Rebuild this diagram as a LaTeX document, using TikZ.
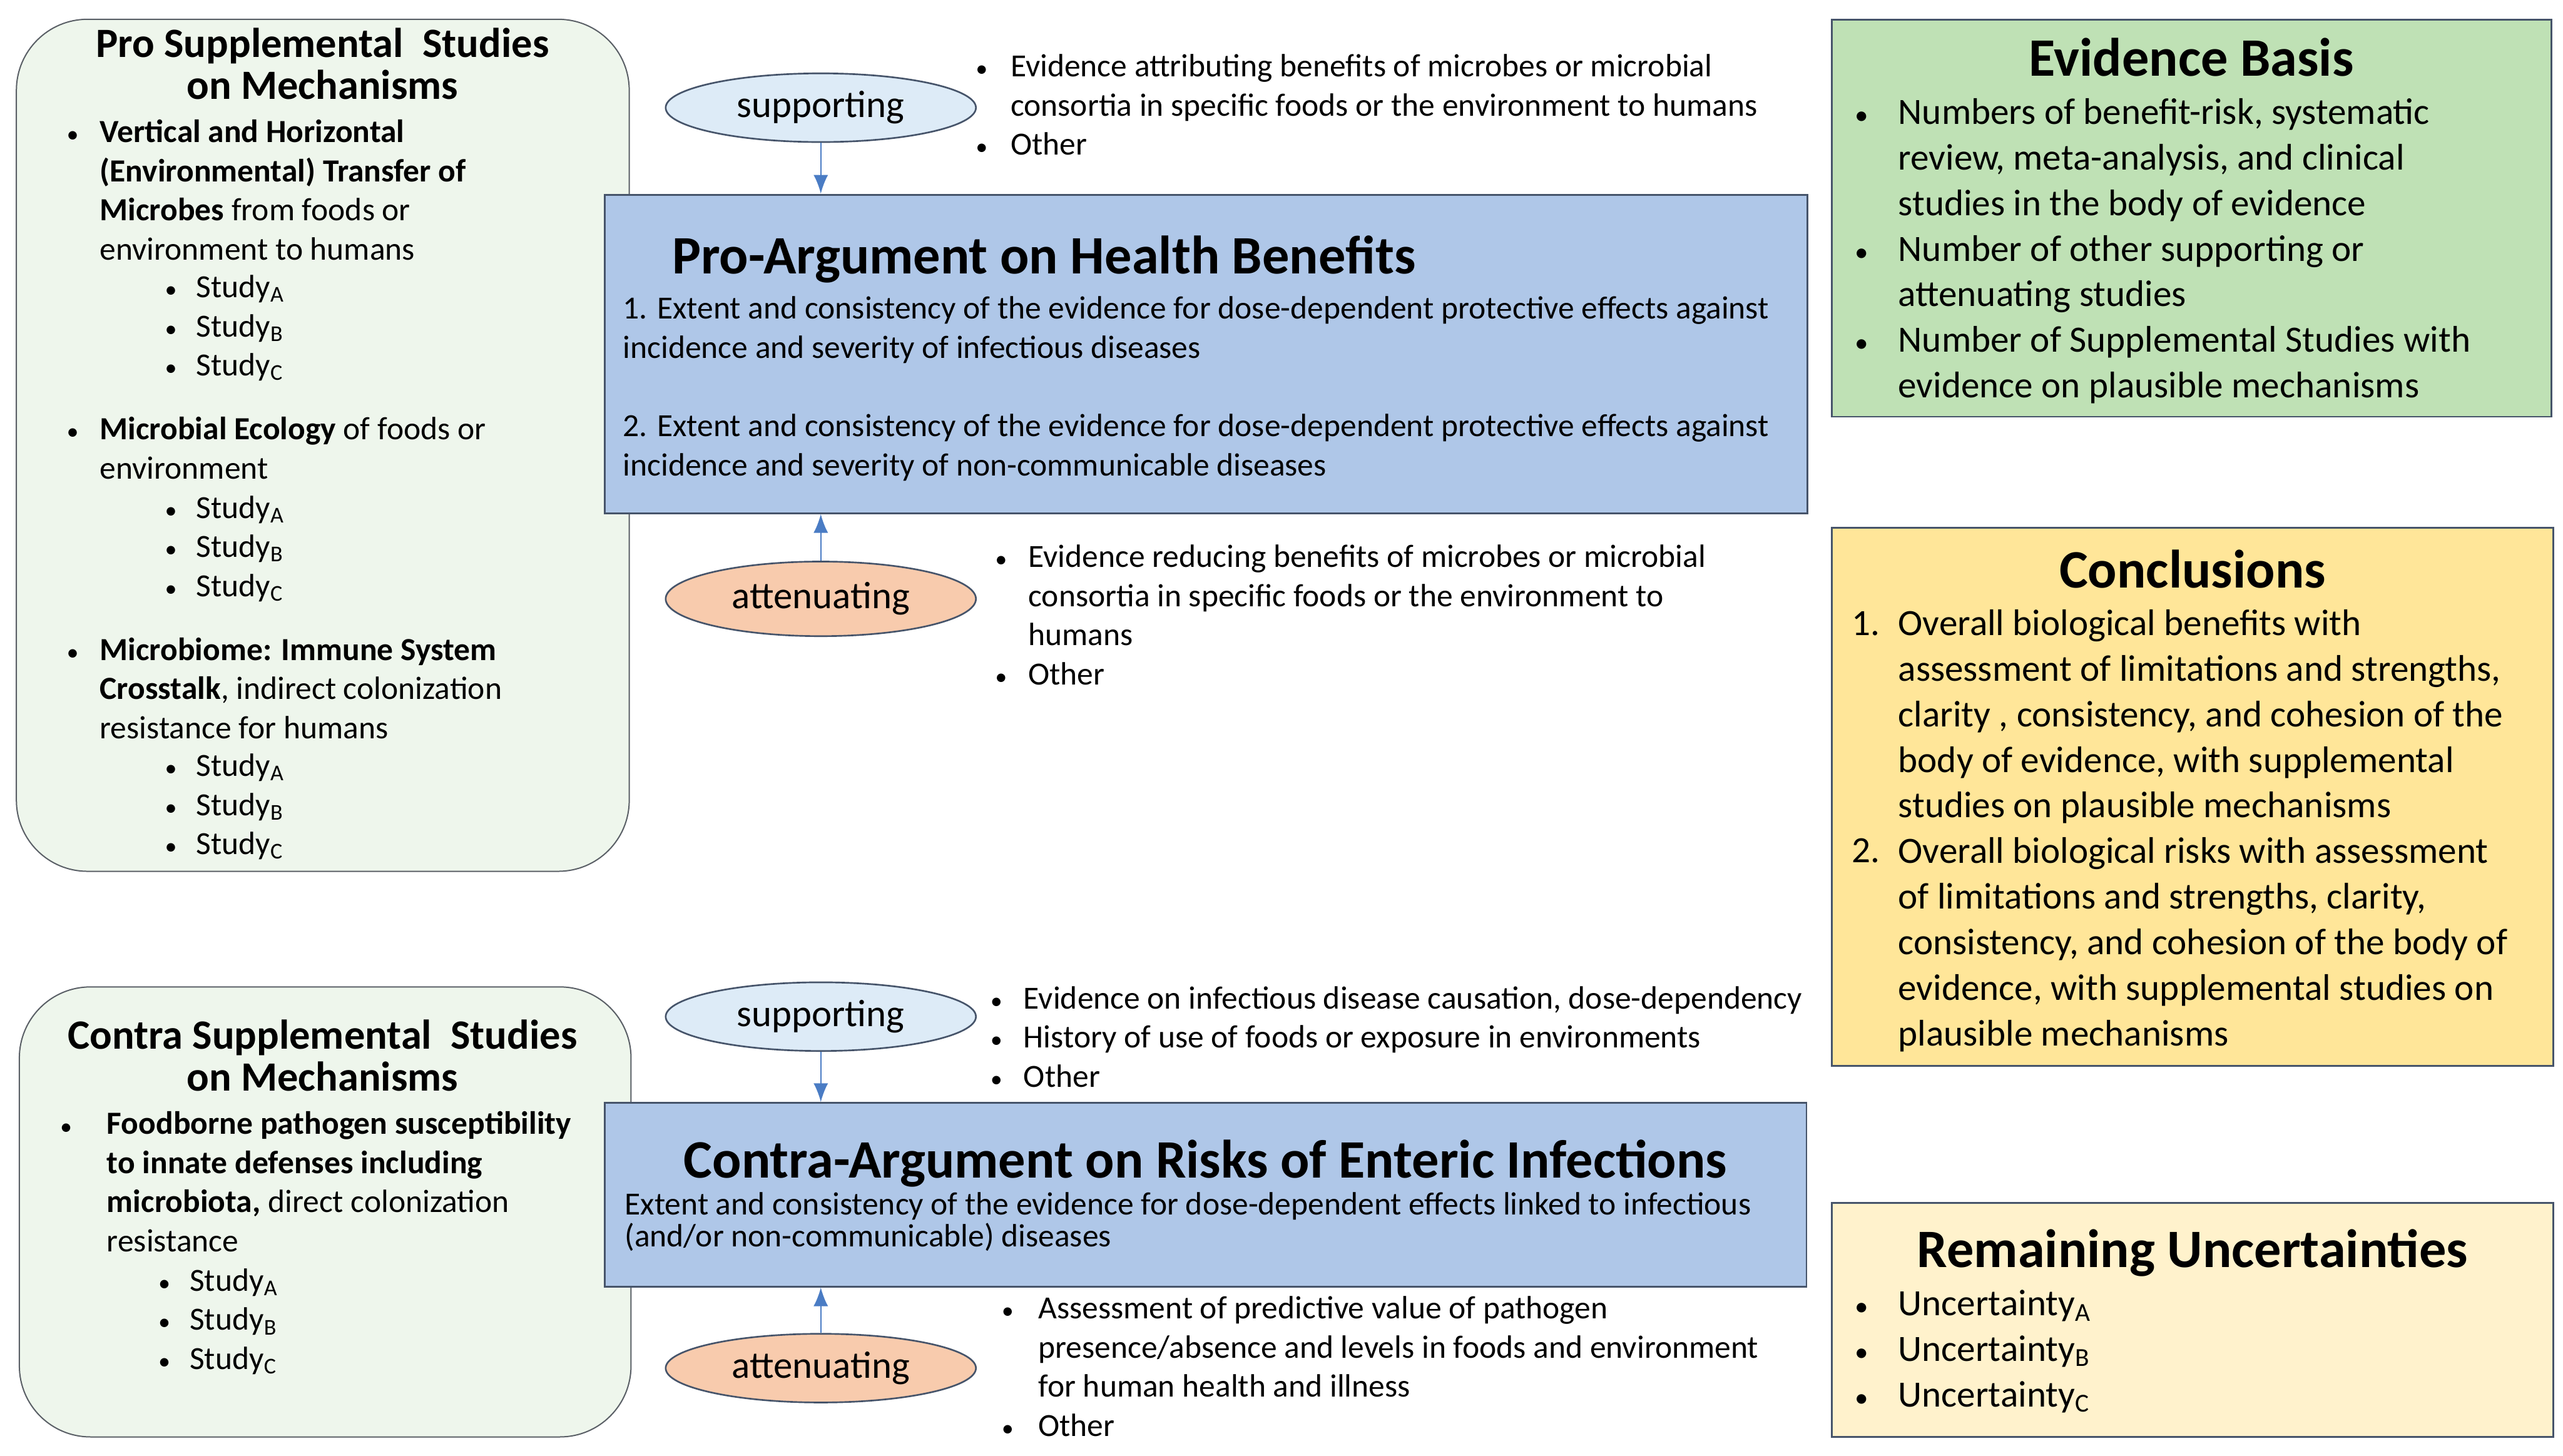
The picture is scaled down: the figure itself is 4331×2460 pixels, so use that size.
\documentclass[tikz,border=0pt]{standalone}
\usepackage{fontspec}
\setmainfont{Carlito}
\usetikzlibrary{shapes.geometric,arrows.meta}
\definecolor{leftgreen}{HTML}{EEF6EC}
\definecolor{edgegray}{HTML}{5A5F66}
\definecolor{slate}{HTML}{46546A}
\definecolor{argblue}{HTML}{AFC7E8}
\definecolor{supblue}{HTML}{DDEBF7}
\definecolor{attorange}{HTML}{F8CBAD}
\definecolor{evidgreen}{HTML}{BFE1B5}
\definecolor{conclyellow}{HTML}{FFE699}
\definecolor{uncertyellow}{HTML}{FFF2CC}
\definecolor{arrowblue}{HTML}{4A7CC4}
\newcommand{\studylist}{Study\textsubscript{A}\\Study\textsubscript{B}\\Study\textsubscript{C}}
\begin{document}
\begin{tikzpicture}[x=.01cm,y=-.01cm,>={Latex[length=9pt,width=7pt]},
  supbox/.style={draw=edgegray,fill=leftgreen,line width=.6pt,rounded corners=1.2cm,inner sep=0pt},
  argbox/.style={draw=slate,fill=argblue,line width=.9pt,inner sep=0pt},
  infobox/.style={draw=slate,line width=.9pt,inner sep=0pt,minimum width=12.18cm},
  oval/.style={ellipse,draw=slate,line width=.8pt,inner sep=0pt,minimum width=5.24cm,minimum height=1.16cm,font=\fontsize{18.3}{20}\selectfont},
  link/.style={->,draw=arrowblue,line width=.7pt},
  supttl/.style={anchor=base,align=center,inner sep=0pt,font=\fontsize{20}{20.2}\selectfont\bfseries},
  rightttl/.style={anchor=base,inner sep=0pt,font=\fontsize{26}{28}\selectfont\bfseries},
  argttl/.style={anchor=base,inner sep=0pt,font=\fontsize{26}{28}\selectfont\bfseries},
  lefttxt/.style={anchor=base west,align=left,inner sep=0pt,font=\fontsize{15.5}{18.8}\selectfont},
  sidetxt/.style={anchor=base west,align=left,inner sep=0pt,font=\fontsize{15.5}{18.8}\selectfont},
  righttxt/.style={anchor=base west,align=left,inner sep=0pt,font=\fontsize{17.8}{21.9}\selectfont},
  lbul/.style={lefttxt,font=\fontsize{11.5}{18.8}\selectfont},
  rbul/.style={righttxt,font=\fontsize{13}{21.9}\selectfont}]
\useasboundingbox (0,0) rectangle (4331,2460);

\node[supbox,minimum width=10.35cm,minimum height=14.39cm] (prosup) at (545.5,752.5){};
\node[supttl] (prosupT) at (545,168){Pro Supplemental\ \ Studies\\on Mechanisms};
\node[lbul] (pb1) at (112,241){•};
\node[lefttxt] (pt1) at (168,439){\textbf{Vertical and Horizontal}\\\textbf{(Environmental) Transfer of}\\\textbf{Microbes} from foods or\\environment to humans};
\node[lbul] (ps1b) at (278,635){•\\•\\•};
\node[lefttxt] (ps1) at (331,635){\studylist};
\node[lbul] (pb2) at (112,743){•};
\node[lefttxt] (pt2) at (168,809){\textbf{Microbial Ecology} of foods or\\environment};
\node[lbul] (ps2b) at (278,1008){•\\•\\•};
\node[lefttxt] (ps2) at (331,1008){\studylist};
\node[lbul] (pb3) at (112,1116){•};
\node[lefttxt] (pt3) at (168,1248){\textbf{Microbiome: Immune System}\\\textbf{Crosstalk}, indirect colonization\\resistance for humans};
\node[lbul] (ps3b) at (278,1444){•\\•\\•};
\node[lefttxt] (ps3) at (331,1444){\studylist};

\node[supbox,minimum width=10.33cm,minimum height=7.6cm] (consup) at (549.5,2048){};
\node[supttl] (consupT) at (545,1844){Contra Supplemental\ \ Studies\\on Mechanisms};
\node[lbul] (cb1) at (101,1917){•};
\node[lefttxt] (ct1) at (180,2115){\textbf{Foodborne pathogen susceptibility}\\\textbf{to innate defenses including}\\\textbf{microbiota,} direct colonization\\resistance};
\node[lbul] (cs1b) at (267,2314){•\\•\\•};
\node[lefttxt] (cs1) at (320,2314){\studylist};

\node[argbox,minimum width=20.32cm,minimum height=5.38cm] (pro) at (2038,598){};
\node[argttl,anchor=base west] (proT) at (1135,463){Pro-Argument on Health Benefits};
\node[lefttxt] (proA) at (1052,605){1. Extent and consistency of the evidence for dose-dependent protective effects against\\incidence and severity of infectious diseases};
\node[lefttxt] (proB) at (1052,804){2. Extent and consistency of the evidence for dose-dependent protective effects against\\incidence and severity of non-communicable diseases};

\node[argbox,minimum width=20.30cm,minimum height=3.10cm] (con) at (2037,2019){};
\node[argttl] (conT) at (2037,1990){Contra-Argument on Risks of Enteric Infections};
\node[lefttxt,font=\fontsize{15.5}{15.4}\selectfont] (conA) at (1055,2107){Extent and consistency of the evidence for dose-dependent effects linked to infectious\\(and/or non-communicable) diseases};

\node[oval,fill=supblue] (sup1) at (1387,182){supporting};
\node[oval,fill=attorange,minimum height=1.26cm] (att1) at (1387,1012){attenuating};
\node[oval,fill=supblue] (sup2) at (1387,1718){supporting};
\node[oval,fill=attorange] (att2) at (1387,2312){attenuating};

\draw[link] (sup1) -- (sup1 |- pro.north);
\draw[link] (att1) -- (att1 |- pro.south);
\draw[link] (sup2) -- (sup2 |- con.north);
\draw[link] (att2) -- (att2 |- con.south);

\node[lbul] (s1b) at (1648,262){•\\\mbox{}\\•};
\node[sidetxt] (s1) at (1707,262){Evidence attributing benefits of microbes or microbial\\consortia in specific foods or the environment to humans\\Other};
\node[lbul] (a1b) at (1681,1157){•\\\mbox{}\\\mbox{}\\•};
\node[sidetxt] (a1) at (1737,1157){Evidence reducing benefits of microbes or microbial\\consortia in specific foods or the environment to\\humans\\Other};
\node[lbul] (s2b) at (1673,1837){•\\•\\•};
\node[sidetxt] (s2) at (1729,1837){Evidence on infectious disease causation, dose-dependency\\History of use of foods or exposure in environments\\Other};
\node[lbul] (a2b) at (1692,2427){•\\\mbox{}\\\mbox{}\\•};
\node[sidetxt] (a2) at (1754,2427){Assessment of predictive value of pathogen\\presence/absence and levels in foods and environment\\for human health and illness\\Other};

\node[infobox,fill=evidgreen,minimum width=12.15cm,minimum height=6.71cm] (evid) at (3703.5,368.5){};
\node[rightttl] (evidT) at (3703,128){Evidence Basis};
\node[rbul] (evidb) at (3134,595){•\\\mbox{}\\\mbox{}\\•\\\mbox{}\\•};
\node[righttxt] (evidt) at (3207,672){Numbers of benefit-risk, systematic\\review, meta-analysis, and clinical\\studies in the body of evidence\\Number of other supporting or\\attenuating studies\\Number of Supplemental Studies with\\evidence on plausible mechanisms};

\node[infobox,fill=conclyellow,minimum height=9.09cm] (concl) at (3705,1346.5){};
\node[rightttl] (conclT) at (3705,993){Conclusions};
\node[righttxt] (concl1) at (3129,1074){1.};
\node[righttxt] (concl2) at (3129,1458){2.};
\node[righttxt] (conclt) at (3207,1767){Overall biological benefits with\\assessment of limitations and strengths,\\clarity , consistency, and cohesion of the\\body of evidence, with supplemental\\studies on plausible mechanisms\\Overall biological risks with assessment\\of limitations and strengths, clarity,\\consistency, and cohesion of the body of\\evidence, with supplemental studies on\\plausible mechanisms};

\node[infobox,fill=uncertyellow,minimum height=3.95cm] (uncert) at (3705,2230.5){};
\node[rightttl] (uncertT) at (3705,2142){Remaining Uncertainties};
\node[rbul] (uncertb) at (3134,2377){•\\•\\•};
\node[righttxt] (uncertt) at (3207,2377){Uncertainty\textsubscript{A}\\Uncertainty\textsubscript{B}\\Uncertainty\textsubscript{C}};
\end{tikzpicture}
\end{document}
